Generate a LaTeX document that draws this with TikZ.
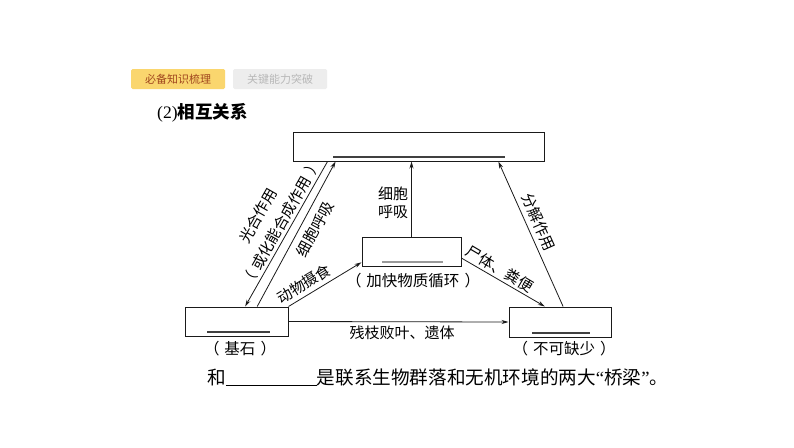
\documentclass[tikz,border=0pt]{standalone}
\usepackage{fontspec}
\setmainfont{Noto Sans CJK SC}
\newfontfamily\latinq{Liberation Serif}
\usetikzlibrary{arrows.meta,calc}
\definecolor{tabyellow}{HTML}{FAD66E}
\definecolor{tabtext}{HTML}{A0461E}
\definecolor{tabgray}{HTML}{EDEDED}
\definecolor{tabgraytext}{HTML}{B8B8B8}
\definecolor{ink}{HTML}{1A1A1A}
\newcommand\lpar{（\hspace{5pt}}
\newcommand\rpar{\hspace{5pt}）}
\begin{document}
\begin{tikzpicture}[x=1pt,y=-1pt,
  box/.style={draw=ink, line width=1pt, fill=white, inner sep=0pt},
  arr/.style={draw=ink, line width=0.8pt, -{Stealth[length=7pt,width=4pt]}},
  lbl/.style={inner sep=0pt, font=\fontsize{15}{18}\selectfont},
  sublbl/.style={inner sep=0pt, font=\fontsize{15.5}{18}\selectfont},
  blank/.style={line width=1.4pt, draw=black!75},
  tab/.style={inner sep=0pt, minimum height=20pt, rounded corners=1.5pt, font=\fontsize{11}{13}\selectfont}
]
\useasboundingbox (0,0) rectangle (794,447);
\fill[white] (0,0) rectangle (794,447);

% header tabs
\node[tab, fill=tabyellow, minimum width=94pt, text=tabtext] (tab1) at (178,79) {必备知识梳理};
\node[tab, fill=tabgray, minimum width=94pt, text=tabgraytext] (tab2) at (280,79) {关键能力突破};

% title
\node[anchor=west, inner sep=0pt, font=\fontsize{17.5}{20}\selectfont] (title) at (157,113) {{\latinq (2)}\textbf{相互关系}};

% boxes
\node[box, minimum width=251pt, minimum height=29pt] (top) at (418.5,146.5) {};
\node[box, minimum width=99pt, minimum height=29pt] (mid) at (411.5,251.5) {};
\node[box, minimum width=103pt, minimum height=29pt] (left) at (236.5,321.5) {};
\node[box, minimum width=102pt, minimum height=30pt] (right) at (560,322) {};

% blanks inside boxes
\draw[blank] (333,157) -- (505,157);
\draw[blank, draw=black!40] (382,262) -- (443,262);
\draw[blank] (207,332) -- (270,332);
\draw[blank] (532,333) -- (590,333);

% connectors
\draw[arr] ($(top.south west)!0.139!(top.south east)$) -- ($(left.north west)!0.583!(left.north east)$);
\draw[arr] ($(left.north west)!0.699!(left.north east)$) -- ($(top.south west)!0.171!(top.south east)$);
\draw[arr] (left.north east) -- ($(mid.north west)!0.86!(mid.south west)$);
\draw[arr] (mid.north) -- (mid.north |- top.south);
\draw[arr] ($(mid.north east)!0.72!(mid.south east)$) -- ($(right.north west)!0.353!(right.north east)$);
\draw[arr] ($(right.north west)!0.53!(right.north east)$) -- ($(top.south west)!0.817!(top.south east)$);
\draw[arr] (left.east) -- (right.west);

% labels
\node[lbl, rotate=60.5] (l1) at (258,216) {光合作用};
\node[lbl, rotate=60.5] (l2) at (281,223) {\lpar 或化能合成作用\rpar};
\node[lbl, rotate=61.7] (l3) at (315,229) {细胞呼吸};
\node[lbl, rotate=31.3] (l4) at (304,284) {动物摄食};
\node[lbl, align=center] (l5) at (393,203) {细胞\\呼吸};
\node[lbl, rotate=-30.6] (l6) at (500,269) {尸体、粪便};
\node[lbl, rotate=-66] (l7) at (539,222) {分解作用};
\node[lbl] (l8) at (402,333) {残枝败叶、遗体};
\node[sublbl] (s1) at (240,349) {\lpar 基石\rpar};
\node[sublbl] (s2) at (413,281) {\lpar 加快物质循环\rpar};
\node[sublbl] (s3) at (564,349) {\lpar 不可缺少\rpar};

% bottom sentence
\node[anchor=base west, inner sep=0pt, font=\fontsize{18.6}{21}\selectfont] (sent) at (207,384) {和\rule[-1.5pt]{91pt}{0.8pt}是联系生物群落和无机环境的两大{\latinq “}桥梁{\latinq ”}。};
\end{tikzpicture}
\end{document}
